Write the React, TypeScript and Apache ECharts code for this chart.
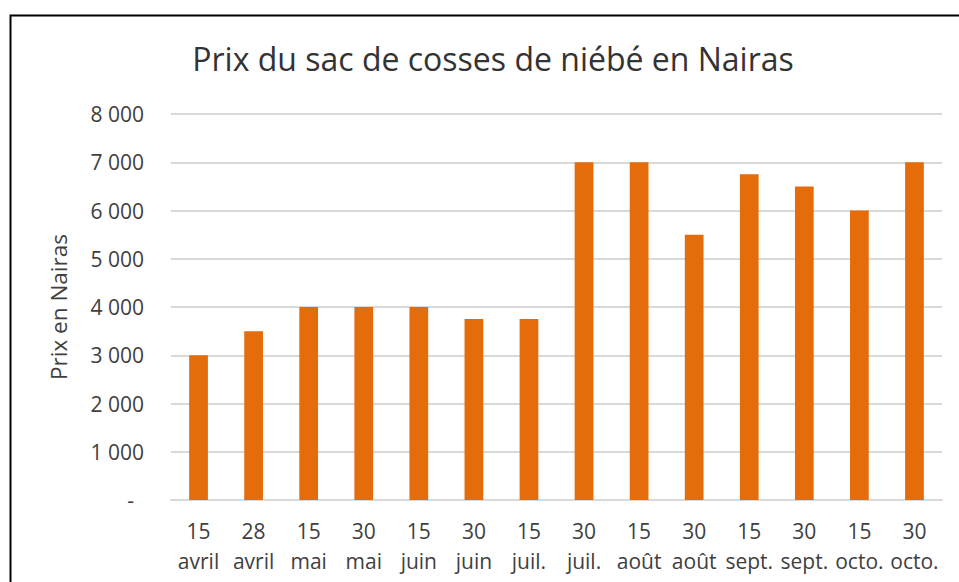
import React, { useEffect, useRef } from "react";
import * as echarts from "echarts";

const dayLabels = ["15", "28", "15", "30", "15", "30", "15", "30", "15", "30", "15", "30", "15", "30"];
const monthLabels = ["avril", "avril", "mai", "mai", "juin", "juin", "juil.", "juil.", "août", "août", "sept.", "sept.", "octo.", "octo."];
const prices = [3000, 3500, 4000, 4000, 4000, 3750, 3750, 7000, 7000, 5500, 6750, 6500, 6000, 7000];
const titleText = "Prix du sac de cosses de niébé en Nairas";
const yAxisName = "Prix en Nairas";

const FONT = "'Open Sans', sans-serif";
const TEXT = "#404040";

export default function App() {
  const ref = useRef<HTMLDivElement>(null);
  useEffect(() => {
    if (!ref.current) return;
    const chart = echarts.init(ref.current, undefined, { renderer: "svg" });
    const categories = dayLabels.map((d, i) => d + "\n" + monthLabels[i]);
    chart.setOption({
      animation: false,
      backgroundColor: "#ffffff",
      title: {
        text: titleText,
        left: 488,
        textAlign: "center",
        top: 37,
        textStyle: { fontFamily: FONT, fontSize: 32, fontWeight: "normal", color: "#333333" },
      },
      graphic: [
        {
          type: "rect",
          shape: { x: 10.5, y: 15.5, width: 1200, height: 1000 },
          style: { fill: "none", stroke: "#000000", lineWidth: 2 },
          silent: true,
        },
      ],
      grid: { left: 171, right: 17, top: 114, bottom: 82, containLabel: false },
      xAxis: {
        type: "category",
        data: categories,
        axisLine: { show: true, lineStyle: { color: "#d9d9d9", width: 2 } },
        axisTick: { show: false },
        axisLabel: {
          interval: 0,
          margin: 16,
          fontFamily: FONT,
          fontSize: 21,
          lineHeight: 30,
          color: TEXT,
        },
      },
      yAxis: {
        type: "value",
        min: 0,
        max: 8000,
        interval: 1000,
        name: yAxisName,
        nameLocation: "middle",
        nameGap: 101,
        nameTextStyle: { fontFamily: FONT, fontSize: 22.5, color: TEXT },
        axisLine: { show: false },
        axisTick: { show: false },
        splitLine: { lineStyle: { color: "#d9d9d9", width: 2 } },
        axisLabel: {
          margin: 27,
          fontFamily: FONT,
          fontSize: 21,
          color: TEXT,
          formatter: (v: number) =>
            v === 0 ? "{d|-}" : String(v).replace(/\B(?=(\d{3})+(?!\d))/g, " "),
          rich: {
            d: { fontFamily: FONT, fontSize: 21, color: TEXT, padding: [0, 10, 0, 0] },
          },
        },
      },
      series: [
        {
          type: "bar",
          data: prices,
          barWidth: "34%",
          itemStyle: { color: "#E46C0A" },
        },
      ],
    });
    return () => chart.dispose();
  }, []);
  return (
    <div
      ref={ref}
      style={{ position: "fixed", left: 0, top: 0, width: 959, height: 582 }}
    />
  );
}
